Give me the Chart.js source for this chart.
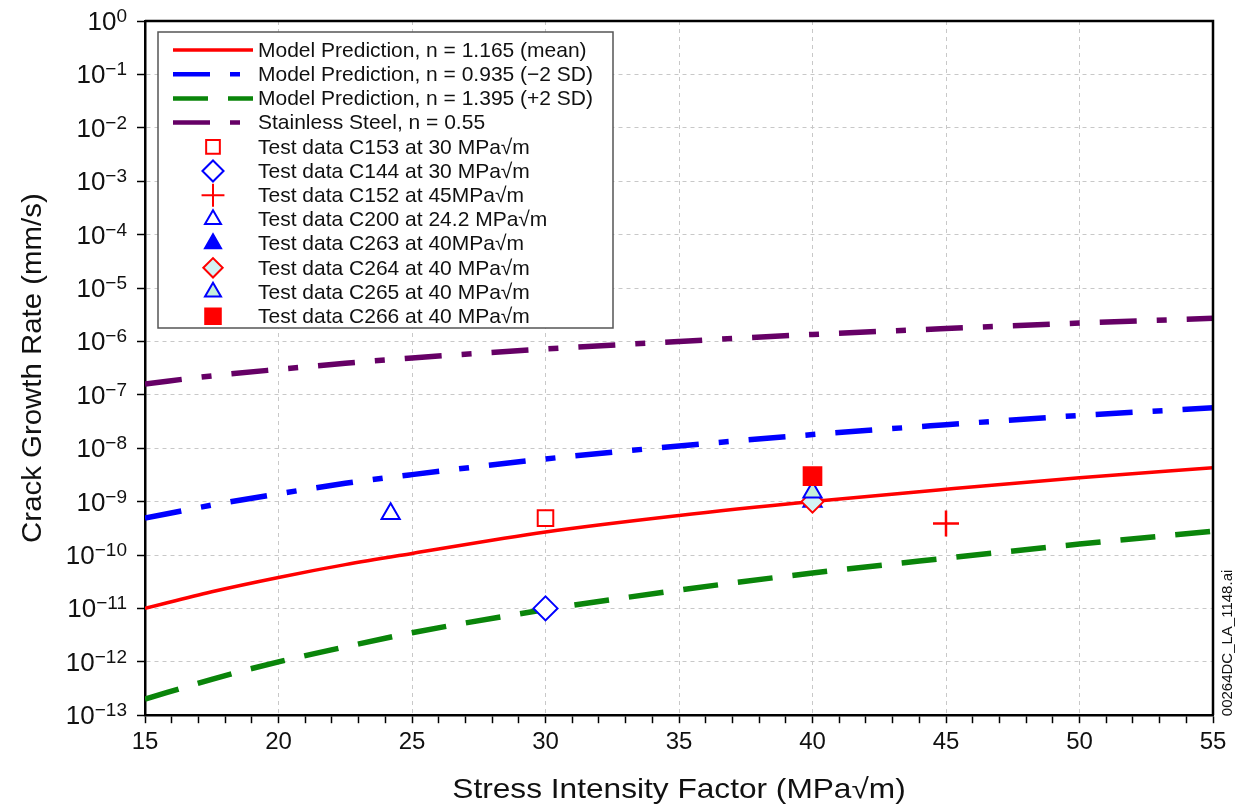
<!DOCTYPE html>
<html>
<head>
<meta charset="utf-8">
<script src="https://cdn.jsdelivr.net/npm/chart.js@4.4.0/dist/chart.umd.min.js"></script>
<style>
  html, body { margin: 0; padding: 0; background: #fff; }
  #wrap { width: 1238px; height: 810px; position: relative; }
</style>
</head>
<body>
<div id="wrap"><canvas id="chart"></canvas></div>
<script>
const FONT = '"Liberation Sans", Arial, sans-serif';

// model curves
const curveK = [15, 17.5, 20, 22.5, 25, 30, 35, 40, 45, 50, 55];
const meanRate = [1.0e-11, 2.05e-11, 3.8e-11, 6.6e-11, 1.07e-10, 2.7e-10, 5.5e-10, 1.0e-9, 1.7e-9, 2.8e-9, 4.3e-9];
const minus2sdRate = [4.9e-10, 8.6e-10, 1.4e-9, 2.2e-9, 3.2e-9, 6.3e-9, 1.1e-8, 1.8e-8, 2.75e-8, 4.1e-8, 5.7e-8];
const plus2sdRate = [2.0e-13, 4.7e-13, 1.0e-12, 1.9e-12, 3.5e-12, 9.5e-12, 2.2e-11, 4.6e-11, 8.7e-11, 1.6e-10, 2.8e-10];
const stainlessRate = [1.6e-7, 2.26e-7, 3.0e-7, 3.9e-7, 4.9e-7, 7.2e-7, 1.0e-6, 1.35e-6, 1.74e-6, 2.2e-6, 2.7e-6];

const curveLabels = [
  'Model Prediction, n = 1.165 (mean)',
  'Model Prediction, n = 0.935 (\u22122 SD)',
  'Model Prediction, n = 1.395 (+2 SD)',
  'Stainless Steel, n = 0.55',
];

// test data points
const testLabels = [
  'Test data C153 at 30 MPa\u221Am',
  'Test data C144 at 30 MPa\u221Am',
  'Test data C152 at 45MPa\u221Am',
  'Test data C200 at 24.2 MPa\u221Am',
  'Test data C263 at 40MPa\u221Am',
  'Test data C264 at 40 MPa\u221Am',
  'Test data C265 at 40 MPa\u221Am',
  'Test data C266 at 40 MPa\u221Am',
];
const testK = [30, 30, 45, 24.2, 40, 40, 40, 40];
const testRate = [4.9e-10, 1.0e-11, 3.9e-10, 5.9e-10, 1.0e-9, 1.0e-9, 1.5e-9, 3.0e-9];

const xTicks = [15, 20, 25, 30, 35, 40, 45, 50, 55];
const yExponents = [0, -1, -2, -3, -4, -5, -6, -7, -8, -9, -10, -11, -12, -13];

Chart.defaults.font.family = FONT;

const curveStyles = [
  { color: '#ff0000', width: 3.5, dash: [] },
  { color: '#0000ff', width: 5.5, dash: [37, 20, 10, 20] },
  { color: '#0a850a', width: 5.5, dash: [35, 20] },
  { color: '#660066', width: 5.5, dash: [37, 20, 10, 20] },
];
const curveData = [meanRate, minus2sdRate, plus2sdRate, stainlessRate];

const markerStyles = [
  { style: 'rect', radius: 11, stroke: '#ff0000', fill: '#ffffff' },
  { style: 'rectRot', radius: 12, stroke: '#0000ff', fill: '#ffffff' },
  { style: 'cross', radius: 13, stroke: '#ff0000', fill: '#ff0000' },
  { style: 'triangle', radius: 10.5, stroke: '#0000ff', fill: '#ffffff' },
  { style: 'triangle', radius: 10.5, stroke: '#0000ff', fill: '#0000ff' },
  { style: 'rectRot', radius: 11, stroke: '#ff0000', fill: '#d4f2f4' },
  { style: 'triangle', radius: 10.5, stroke: '#0000ff', fill: '#c6f0d8' },
  { style: 'rect', radius: 12.5, stroke: '#ff0000', fill: '#ff0000' },
];

const datasets = [];
curveLabels.forEach((label, i) => {
  const s = curveStyles[i];
  datasets.push({
    label,
    data: curveK.map((k, j) => ({ x: k, y: curveData[i][j] })),
    showLine: true,
    borderColor: s.color,
    backgroundColor: s.color,
    borderWidth: s.width,
    borderDash: s.dash,
    pointRadius: 0,
    cubicInterpolationMode: 'monotone',
    order: 100 + i,
  });
});
testLabels.forEach((label, i) => {
  const m = markerStyles[i];
  datasets.push({
    label,
    data: [{ x: testK[i], y: testRate[i] }],
    showLine: false,
    pointStyle: m.style,
    pointRadius: m.radius,
    pointBorderWidth: m.style === 'cross' ? 2.5 : 2,
    pointBorderColor: m.stroke,
    pointBackgroundColor: m.fill,
    borderColor: m.stroke,
    backgroundColor: m.fill,
    order: 20 - i,
  });
});

const frameAndLabels = {
  id: 'frameAndLabels',
  afterDraw(chart) {
    const { ctx, chartArea } = chart;
    const y = chart.scales.y;
    ctx.save();

    // top and right frame
    ctx.strokeStyle = '#000';
    ctx.lineWidth = 2.5;
    ctx.beginPath();
    ctx.moveTo(chartArea.left, chartArea.top);
    ctx.lineTo(chartArea.right, chartArea.top);
    ctx.lineTo(chartArea.right, chartArea.bottom);
    ctx.stroke();

    // y tick labels with superscript exponents
    ctx.fillStyle = '#111';
    ctx.textAlign = 'right';
    ctx.textBaseline = 'alphabetic';
    const right = chartArea.left - 18;
    yExponents.forEach((e) => {
      const py = y.getPixelForValue(Math.pow(10, e));
      const sup = e === 0 ? '0' : '\u2212' + Math.abs(e);
      ctx.font = '19px ' + FONT;
      const supW = ctx.measureText(sup).width;
      ctx.fillText(sup, right, py + 1);
      ctx.font = '26px ' + FONT;
      ctx.fillText('10', right - supW, py + 9);
    });

    // axis titles
    ctx.save();
    ctx.translate((chartArea.left + chartArea.right) / 2, 798);
    ctx.scale(1.13, 1);
    ctx.textAlign = 'center';
    ctx.textBaseline = 'alphabetic';
    ctx.font = '28px ' + FONT;
    ctx.fillText('Stress Intensity Factor (MPa\u221Am)', 0, 0);
    ctx.restore();

    ctx.save();
    ctx.translate(33, (chartArea.top + chartArea.bottom) / 2);
    ctx.rotate(-Math.PI / 2);
    ctx.scale(1.05, 1);
    ctx.textAlign = 'center';
    ctx.textBaseline = 'middle';
    ctx.font = '28px ' + FONT;
    ctx.fillText('Crack Growth Rate (mm/s)', 0, 0);
    ctx.restore();

    // file tag on the right
    ctx.save();
    ctx.translate(1228, chartArea.bottom + 1);
    ctx.rotate(-Math.PI / 2);
    ctx.textAlign = 'left';
    ctx.textBaseline = 'middle';
    ctx.font = '15px ' + FONT;
    ctx.fillText('00264DC_LA_1148.ai', 0, 0);
    ctx.restore();

    // legend box
    const bx = 158, by = 32, bw = 455, bh = 296;
    ctx.fillStyle = '#fff';
    ctx.fillRect(bx, by, bw, bh);
    ctx.strokeStyle = '#555';
    ctx.lineWidth = 1.5;
    ctx.strokeRect(bx, by, bw, bh);

    const rowY0 = 50, rowStep = 24.2;
    chart.data.datasets.forEach((ds, i) => {
      const ry = rowY0 + i * rowStep;
      if (ds.showLine) {
        ctx.save();
        ctx.strokeStyle = ds.borderColor;
        ctx.lineWidth = Math.min(ds.borderWidth, 4.5);
        ctx.setLineDash(ds.borderDash);
        ctx.beginPath();
        ctx.moveTo(173, ry);
        ctx.lineTo(253, ry);
        ctx.stroke();
        ctx.restore();
      } else {
        ctx.save();
        ctx.strokeStyle = ds.pointBorderColor;
        ctx.fillStyle = ds.pointBackgroundColor;
        ctx.lineWidth = 2;
        Chart.helpers.drawPoint(ctx, {
          pointStyle: ds.pointStyle,
          radius: ds.pointRadius * 0.88,
          borderWidth: 2,
          rotation: 0,
        }, 213, ry);
        ctx.restore();
      }
      ctx.fillStyle = '#111';
      ctx.textAlign = 'left';
      ctx.textBaseline = 'middle';
      ctx.font = '21px ' + FONT;
      ctx.fillText(ds.label, 258, ry + 1);
    });

    ctx.restore();
  },
};

new Chart(document.getElementById('chart'), {
  type: 'scatter',
  data: { datasets },
  options: {
    responsive: true,
    maintainAspectRatio: false,
    animation: false,
    layout: { padding: { left: 137, top: 21, right: 25, bottom: 48 } },
    plugins: {
      legend: { display: false },
      tooltip: { enabled: false },
    },
    scales: {
      x: {
        type: 'linear',
        min: 15,
        max: 55,
        afterBuildTicks: (scale) => {
          const t = [];
          for (let v = 15; v <= 55; v++) t.push({ value: v });
          scale.ticks = t;
        },
        ticks: {
          autoSkip: false,
          maxRotation: 0,
          padding: 5,
          color: '#111',
          font: { size: 24 },
          callback: (v) => (xTicks.includes(v) ? String(v) : ''),
        },
        grid: {
          color: (c) => (c.tick && xTicks.includes(c.tick.value) ? '#c8c8c8' : 'rgba(0,0,0,0)'),
          lineWidth: 1,
          tickColor: '#000',
          tickLength: 8,
          tickWidth: 1.5,
        },
        border: { color: '#000', width: 2.5, dash: [4, 4] },
      },
      y: {
        type: 'logarithmic',
        min: 1e-13,
        max: 1,
        afterBuildTicks: (scale) => {
          scale.ticks = yExponents.map((e) => ({ value: Math.pow(10, e) }));
        },
        ticks: { display: false },
        grid: {
          color: '#c8c8c8',
          lineWidth: 1,
          tickColor: '#000',
          tickLength: 8,
          tickWidth: 1.5,
        },
        border: { color: '#000', width: 2.5, dash: [4, 4] },
      },
    },
  },
  plugins: [frameAndLabels],
});
</script>
</body>
</html>
